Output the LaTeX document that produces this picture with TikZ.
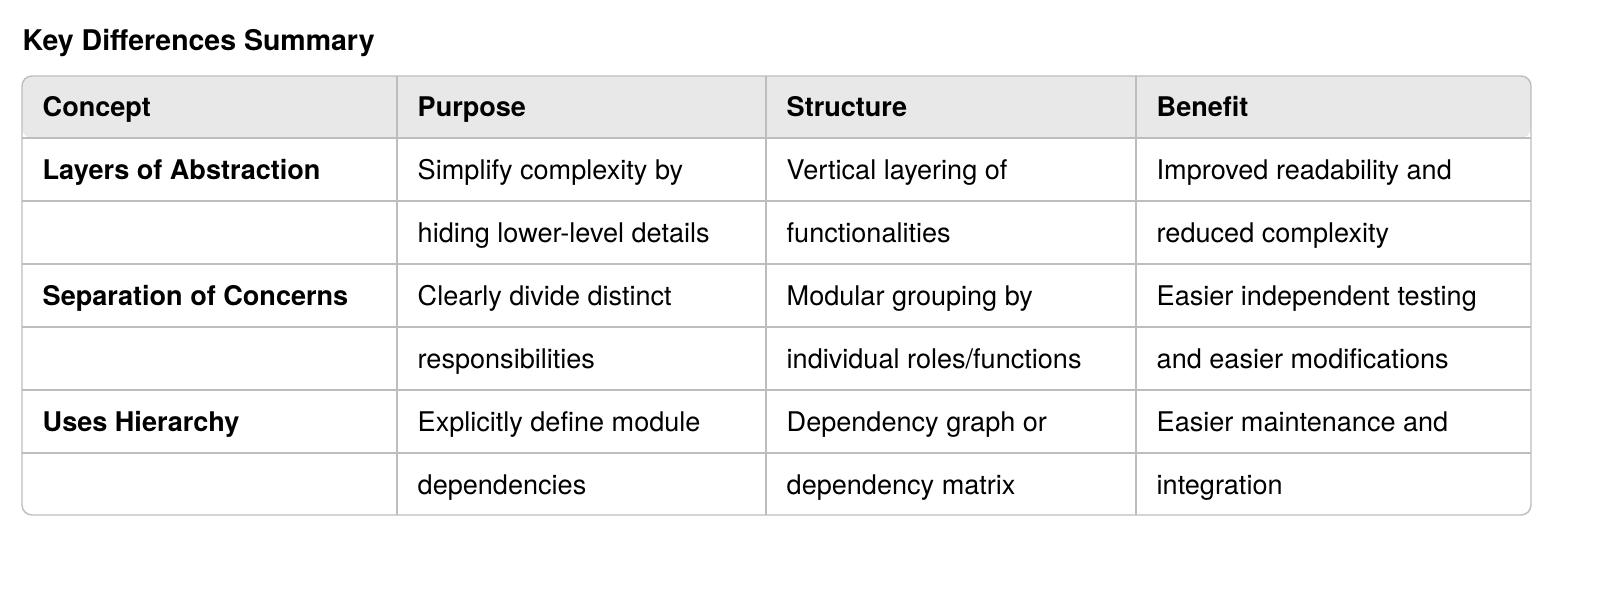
\documentclass[tikz,border=0pt]{standalone}
\usepackage{fontspec}
\setmainfont{TeX Gyre Heros}
\usepackage{xcolor}
\definecolor{headgray}{HTML}{E8E8E8}
\definecolor{rulegray}{HTML}{BDBDBD}
\tikzstyle{cell} = [anchor=base west, inner sep=0pt, font=\fontsize{7.7}{8}\selectfont]
\tikzstyle{head} = [cell, font=\fontsize{7.7}{8}\selectfont\bfseries]

\begin{document}
\begin{tikzpicture}[x=0.01cm,y=-0.01cm]
  \useasboundingbox (0,0) rectangle (1600,601);
  \node[head, font=\fontsize{8.1}{9}\selectfont\bfseries] (title) at (22,51) {Key Differences Summary};

  % header band and frame
  \fill[headgray, rounded corners=0.1cm] (22,76) rectangle (1531,138);
  \fill[white] (22,138) rectangle (1531,515);
  \draw[rulegray, rounded corners=0.1cm] (22,76) rectangle (1531,515);
  \foreach \y in {138,201,264,327,390,453}
    \draw[rulegray] (22,\y) -- (1531,\y);
  \foreach \x in {397,766,1136}
    \draw[rulegray] (\x,76) -- (\x,515);

  \node[head] (hc) at (42,117) {Concept};
  \node[head] (hp) at (417,117) {Purpose};
  \node[head] (hs) at (786,117) {Structure};
  \node[head] (hb) at (1156,117) {Benefit};

  \node[head] (c1) at (42,180) {Layers of Abstraction};
  \node[cell] (p1) at (417,180) {Simplify complexity by};
  \node[cell] (p1b) at (417,243) {hiding lower-level details};
  \node[cell] (s1) at (786,180) {Vertical layering of};
  \node[cell] (s1b) at (786,243) {functionalities};
  \node[cell] (b1) at (1156,180) {Improved readability and};
  \node[cell] (b1b) at (1156,243) {reduced complexity};

  \node[head] (c2) at (42,306) {Separation of Concerns};
  \node[cell] (p2) at (417,306) {Clearly divide distinct};
  \node[cell] (p2b) at (417,369) {responsibilities};
  \node[cell] (s2) at (786,306) {Modular grouping by};
  \node[cell] (s2b) at (786,369) {individual roles/functions};
  \node[cell] (b2) at (1156,306) {Easier independent testing};
  \node[cell] (b2b) at (1156,369) {and easier modifications};

  \node[head] (c3) at (42,432) {Uses Hierarchy};
  \node[cell] (p3) at (417,432) {Explicitly define module};
  \node[cell] (p3b) at (417,495) {dependencies};
  \node[cell] (s3) at (786,432) {Dependency graph or};
  \node[cell] (s3b) at (786,495) {dependency matrix};
  \node[cell] (b3) at (1156,432) {Easier maintenance and};
  \node[cell] (b3b) at (1156,495) {integration};
\end{tikzpicture}
\end{document}
